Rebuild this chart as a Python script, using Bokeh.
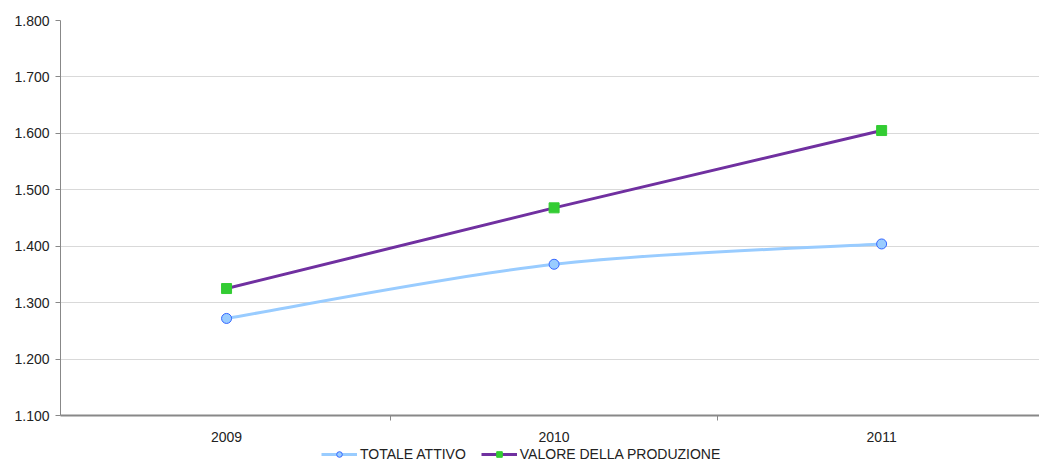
from bokeh.plotting import figure
from bokeh.layouts import column
from bokeh.models import FixedTicker, Range1d, Legend, LegendItem
from bokeh.embed import file_html
from bokeh.resources import INLINE

years = ["2009", "2010", "2011"]
totale_attivo = [1272, 1368, 1404]
valore_produzione = [1325, 1468, 1605]
y_ticks = [1100, 1200, 1300, 1400, 1500, 1600, 1700, 1800]
y_labels = ["1.100", "1.200", "1.300", "1.400", "1.500", "1.600", "1.700", "1.800"]
series_names = ["TOTALE ATTIVO", "VALORE DELLA PRODUZIONE"]

FONT = "Liberation Sans"
xs = list(range(1, len(years) + 1))

TA_LINE, TA_FILL, TA_EDGE = "#99ccff", "#99ccff", "#3366ff"
VP_LINE, VP_FILL = "#7030a0", "#33cc33"

p = figure(width=1039, height=445, output_backend="svg", toolbar_location=None,
           x_range=Range1d(0.493, 3.482), y_range=Range1d(1100, 1800),
           min_border_left=60, min_border_top=20, min_border_right=0,
           min_border_bottom=30, outline_line_color=None)

# smooth curve (Catmull-Rom style bezier through the data points)
def bez(xv, yv):
    n = len(xv)
    segs = []
    for i in range(n - 1):
        x0, y0 = xv[i], yv[i]
        x1, y1 = xv[i + 1], yv[i + 1]
        xp, yp = (xv[i - 1], yv[i - 1]) if i > 0 else (x0, y0)
        xn, yn = (xv[i + 2], yv[i + 2]) if i + 2 < n else (x1, y1)
        segs.append((x0, y0, x1, y1,
                     x0 + (x1 - xp) / 6, y0 + (y1 - yp) / 6,
                     x1 - (xn - x0) / 6, y1 - (yn - y0) / 6))
    return [list(c) for c in zip(*segs)]

x0, y0, x1, y1, cx0, cy0, cx1, cy1 = bez(xs, totale_attivo)
p.bezier(x0=x0, y0=y0, x1=x1, y1=y1, cx0=cx0, cy0=cy0, cx1=cx1, cy1=cy1,
         line_color=TA_LINE, line_width=3)
p.scatter(xs, totale_attivo, marker="circle", size=10,
          fill_color=TA_FILL, line_color=TA_EDGE, line_width=1)

p.line(xs, valore_produzione, line_color=VP_LINE, line_width=3)
p.scatter(xs, valore_produzione, marker="square", size=10,
          fill_color=VP_FILL, line_color=VP_FILL)

# axes
p.xaxis.ticker = FixedTicker(ticks=xs, minor_ticks=[1.5, 2.5])
p.xaxis.major_label_overrides = {x: y for x, y in zip(xs, years)}
p.xaxis.major_tick_line_color = None
p.xaxis.minor_tick_in = 0
p.xaxis.minor_tick_out = 5
p.xaxis.minor_tick_line_color = "#888888"
p.xaxis.axis_line_color = "#888888"
p.xaxis.axis_line_width = 2
p.xaxis.major_label_text_font = FONT
p.xaxis.major_label_text_font_size = "14px"
p.xaxis.major_label_text_color = "#222222"
p.xaxis.major_label_standoff = 10

p.yaxis.ticker = FixedTicker(ticks=y_ticks)
p.yaxis.major_label_overrides = {t: l for t, l in zip(y_ticks, y_labels)}
p.yaxis.minor_tick_line_color = None
p.yaxis.major_tick_in = 0
p.yaxis.major_tick_out = 5
p.yaxis.major_tick_line_color = "#888888"
p.yaxis.axis_line_color = "#888888"
p.yaxis.major_label_text_font = FONT
p.yaxis.major_label_text_font_size = "14px"
p.yaxis.major_label_text_color = "#222222"
p.yaxis.major_label_standoff = 6

p.xgrid.grid_line_color = None
p.ygrid.grid_line_color = "#d9d9d9"
p.ygrid.ticker = FixedTicker(ticks=y_ticks)

# legend strip below the chart
lg = figure(width=1039, height=19, output_backend="svg", toolbar_location=None,
            x_range=Range1d(0, 1), y_range=Range1d(0, 1),
            x_axis_location=None, y_axis_location=None,
            min_border=0, outline_line_color=None)
lg.xgrid.grid_line_color = None
lg.ygrid.grid_line_color = None
nan = float("nan")
l_ta = lg.line([nan], [nan], line_color=TA_LINE, line_width=3)
m_ta = lg.scatter([nan], [nan], marker="circle", size=8,
                  fill_color=TA_FILL, line_color=TA_EDGE, line_width=1)
l_vp = lg.line([nan], [nan], line_color=VP_LINE, line_width=3)
m_vp = lg.scatter([nan], [nan], marker="square", size=9,
                  fill_color=VP_FILL, line_color=VP_FILL)
legend = Legend(items=[
    LegendItem(label=series_names[0], renderers=[l_ta, m_ta]),
    LegendItem(label=series_names[1], renderers=[l_vp, m_vp]),
], orientation="horizontal", location=(261, 2), border_line_color=None,
    background_fill_alpha=0, label_text_font=FONT, label_text_font_size="14px",
    label_text_color="#222222", glyph_width=36, glyph_height=14, spacing=15,
    padding=0, margin=0, label_standoff=3, label_height=14)
lg.add_layout(legend, "center")

layout = column(p, lg, spacing=0)
open("out.html", "w").write(file_html(layout, INLINE))
